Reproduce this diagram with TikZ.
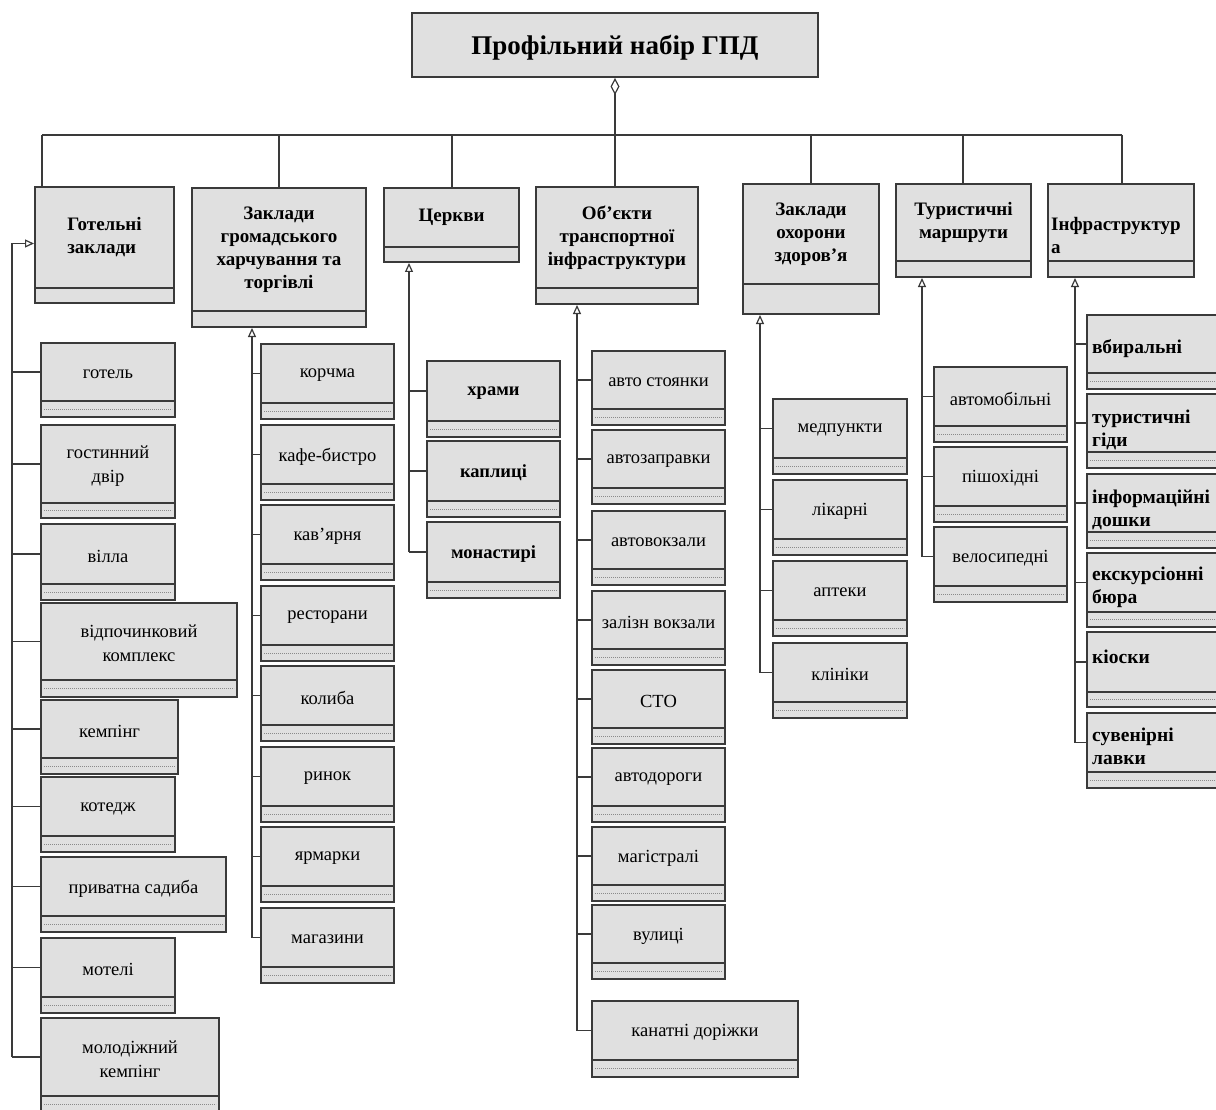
\documentclass[tikz,border=0pt]{standalone}
\usepackage{fontspec}
\setmainfont{Liberation Serif}
\usetikzlibrary{fit,arrows.meta}
\definecolor{boxfill}{HTML}{E0E0E0}
\definecolor{edge}{HTML}{3A3A3A}
\definecolor{dotc}{HTML}{8A8A8A}
\tikzset{
  base/.style={draw=edge, fill=boxfill, line width=2pt, inner sep=0pt, rectangle},
  titletext/.style={inner sep=0pt, font=\bfseries\fontsize{27}{30}\selectfont},
  cattext/.style={inner sep=0pt, font=\bfseries\fontsize{19}{23}\selectfont, align=center},
  catlefttext/.style={inner sep=0pt, font=\bfseries\fontsize{19}{23}\selectfont, align=left},
  itemtext/.style={inner sep=0pt, font=\fontsize{18.5}{24}\selectfont, align=center},
  itemboldtext/.style={inner sep=0pt, font=\bfseries\fontsize{18.5}{24}\selectfont, align=center},
  itemlefttext/.style={inner sep=0pt, font=\bfseries\fontsize{19.5}{23}\selectfont, align=left},
  dotline/.style={dotc, line width=0.8pt, dash pattern=on 1.2pt off 0.8pt},
  conn/.style={edge, line width=1.6pt},
  inh/.style={conn, -{Triangle[length=9pt,width=8pt,fill=white,line width=1.2pt]}},
  agg/.style={conn, {Diamond[length=17pt,width=9pt,fill=white,line width=1.2pt]}-},
}
% category: style, name, x1, y1, x2, ysep, y2, text
\newcommand\mkcat[8]{%
  \node[base, fit={(#3,#4) (#5,#6)}] (#2) {};
  \node[base, fit={(#3,#6) (#5,#7)}] (#2-b) {};
  \node[#1] (#2-t) at (#2.center) {#8};
}
% item: style, name, x1, y1, x2, ysep, y2, text
\newcommand\mkitem[8]{%
  \node[base, fit={(#3,#4) (#5,#6)}] (#2) {};
  \node[base, fit={(#3,#6) (#5,#7)}] (#2-b) {};
  \draw[dotline] ([xshift=4pt]#2-b.west) -- ([xshift=-4pt]#2-b.east);
  \node[#1] (#2-t) at ([yshift=-2pt]#2.center) {#8};
}
% left-aligned item, 9th argument: y of the text centre
\newcommand\mkitemL[9]{%
  \node[base, fit={(#3,#4) (#5,#6)}] (#2) {};
  \node[base, fit={(#3,#6) (#5,#7)}] (#2-b) {};
  \draw[dotline] ([xshift=4pt]#2-b.west) -- ([xshift=-4pt]#2-b.east);
  \node[#1, anchor=west] (#2-t) at (#3+5,#9) {#8};
}
\begin{document}
\begin{tikzpicture}[x=1pt,y=-1pt]
\useasboundingbox (0,0) rectangle (1216,1110);
\clip (0,0) rectangle (1216,1110);
\fill[white] (0,0) rectangle (1216,1110);

% title
\node[base, fit={(412,13) (818,77)}] (top) {};
\node[titletext] (top-t) at ([yshift=-3pt]top.center) {Профільний набір ГПД};

% categories
\mkcat{catlefttext}{g}{35}{187}{174}{288}{303}{Готельні\\заклади}
\mkcat{cattext}{z}{192}{188}{366}{311}{327}{Заклади\\громадського\\харчування та\\торгівлі}
\mkcat{cattext}{c}{384}{188}{519}{247}{262}{Церкви}
\mkcat{cattext}{o}{536}{187}{698}{288}{304}{Об’єкти\\транспортної\\інфраструктури}
\mkcat{cattext}{h}{743}{184}{879}{284}{314}{Заклади\\охорони\\здоров’я}
\mkcat{cattext}{t}{896}{184}{1031}{261}{277}{Туристичні\\маршрути}
\node[base, fit={(1048,184) (1194,261)}] (i) {};
\node[base, fit={(1048,261) (1194,277)}] (i-b) {};
\node[catlefttext, anchor=west] (i-t) at ([xshift=4pt,yshift=-13pt]i.west) {Інфраструктур\\а};

% bus
\coordinate (busL) at (42,135);
\coordinate (busR) at (1122,135);
\coordinate (do) at (615,135);
\draw[conn] (busL) -- (busR);
\draw[agg] (top.south -| do) -- (do);
\draw[conn] (busL) -- (busL |- g.north);
\foreach \x/\n in {279/z,452/c,811/h,963/t,1122/i}{
  \coordinate (d\n) at (\x,135);
  \draw[conn] (d\n) -- (d\n |- \n.north);
}
\draw[conn] (do) -- (do |- o.north);

% column 1
\mkitem{itemtext}{g1}{41}{343}{175}{401}{417}{готель}
\mkitem{itemtext}{g2}{41}{425}{175}{503}{518}{гостинний\\двір}
\mkitem{itemtext}{g3}{41}{524}{175}{584}{600}{вілла}
\mkitem{itemtext}{g4}{41}{603}{237}{680}{697}{відпочинковий\\комплекс}
\mkitem{itemtext}{g5}{41}{700}{178}{758}{774}{кемпінг}
\mkitem{itemtext}{g6}{41}{777}{175}{836}{852}{котедж}
\mkitem{itemtext}{g7}{41}{857}{226}{916}{932}{приватна садиба}
\mkitem{itemtext}{g8}{41}{938}{175}{997}{1013}{мотелі}
\mkitem{itemtext}{g9}{41}{1018}{219}{1096}{1113}{молодіжний\\кемпінг}
\coordinate (v1) at (12,0);
\draw[inh] (v1 |- g9.west) -- ([yshift=-6pt]v1 |- g.west) -- ([yshift=-6pt]g.west);
\foreach \n in {g1,g2,g3,g4,g5,g6,g7,g8,g9}
  \draw[conn] (v1 |- \n.west) -- (\n.west);

% column 2
\mkitem{itemtext}{z1}{261}{344}{394}{403}{419}{корчма}
\mkitem{itemtext}{z2}{261}{425}{394}{484}{500}{кафе-бистро}
\mkitem{itemtext}{z3}{261}{505}{394}{564}{580}{кав’ярня}
\mkitem{itemtext}{z4}{261}{586}{394}{645}{661}{ресторани}
\mkitem{itemtext}{z5}{261}{666}{394}{725}{741}{колиба}
\mkitem{itemtext}{z6}{261}{747}{394}{806}{822}{ринок}
\mkitem{itemtext}{z7}{261}{827}{394}{886}{902}{ярмарки}
\mkitem{itemtext}{z8}{261}{908}{394}{967}{983}{магазини}
\coordinate (v2) at (252,0);
\draw[inh] (v2 |- z8.west) -- (v2 |- z-b.south);
\foreach \n in {z1,z2,z3,z4,z5,z6,z7,z8}
  \draw[conn] (v2 |- \n.west) -- (\n.west);

% column 3
\mkitem{itemboldtext}{c1}{427}{361}{560}{421}{437}{храми}
\mkitem{itemboldtext}{c2}{427}{441}{560}{501}{517}{каплиці}
\mkitem{itemboldtext}{c3}{427}{522}{560}{582}{598}{монастирі}
\coordinate (v3) at (409,0);
\draw[inh] (v3 |- c3.west) -- (v3 |- c-b.south);
\foreach \n in {c1,c2,c3}
  \draw[conn] (v3 |- \n.west) -- (\n.west);

% column 4
\mkitem{itemtext}{o1}{592}{351}{725}{409}{425}{авто стоянки}
\mkitem{itemtext}{o2}{592}{430}{725}{488}{504}{автозаправки}
\mkitem{itemtext}{o3}{592}{511}{725}{569}{585}{автовокзали}
\mkitem{itemtext}{o4}{592}{591}{725}{649}{665}{залізн вокзали}
\mkitem{itemtext}{o5}{592}{670}{725}{728}{744}{СТО}
\mkitem{itemtext}{o6}{592}{748}{725}{806}{822}{автодороги}
\mkitem{itemtext}{o7}{592}{827}{725}{885}{901}{магістралі}
\mkitem{itemtext}{o8}{592}{905}{725}{963}{979}{вулиці}
\mkitem{itemtext}{o9}{592}{1001}{798}{1060}{1077}{канатні доріжки}
\coordinate (v4) at (577,0);
\draw[inh] (v4 |- o9.west) -- (v4 |- o-b.south);
\foreach \n in {o1,o2,o3,o4,o5,o6,o7,o8,o9}
  \draw[conn] (v4 |- \n.west) -- (\n.west);

% column 5
\mkitem{itemtext}{h1}{773}{399}{907}{458}{474}{медпункти}
\mkitem{itemtext}{h2}{773}{480}{907}{539}{555}{лікарні}
\mkitem{itemtext}{h3}{773}{561}{907}{620}{636}{аптеки}
\mkitem{itemtext}{h4}{773}{643}{907}{702}{718}{клініки}
\coordinate (v5) at (760,0);
\draw[inh] (v5 |- h4.west) -- (v5 |- h-b.south);
\foreach \n in {h1,h2,h3,h4}
  \draw[conn] (v5 |- \n.west) -- (\n.west);

% column 6
\mkitem{itemtext}{t1}{934}{367}{1067}{426}{442}{автомобільні}
\mkitem{itemtext}{t2}{934}{447}{1067}{506}{522}{пішохідні}
\mkitem{itemtext}{t3}{934}{527}{1067}{586}{602}{велосипедні}
\coordinate (v6) at (922,0);
\draw[inh] (v6 |- t3.west) -- (v6 |- t-b.south);
\foreach \n in {t1,t2,t3}
  \draw[conn] (v6 |- \n.west) -- (\n.west);

% column 7
\mkitemL{itemlefttext}{i1}{1087}{315}{1230}{373}{389}{вбиральні}{349}
\mkitemL{itemlefttext}{i2}{1087}{394}{1230}{452}{468}{туристичні\\гіди}{430}
\mkitemL{itemlefttext}{i3}{1087}{474}{1230}{532}{548}{інформаційні\\дошки}{510}
\mkitemL{itemlefttext}{i4}{1087}{553}{1230}{612}{627}{екскурсіонні\\бюра}{587}
\mkitemL{itemlefttext}{i5}{1087}{632}{1230}{692}{707}{кіоски}{657}
\mkitemL{itemlefttext}{i6}{1087}{713}{1230}{772}{788}{сувенірні\\лавки}{746}
\coordinate (v7) at (1075,0);
\draw[inh] (v7 |- i6.west) -- (v7 |- i-b.south);
\foreach \n in {i1,i2,i3,i4,i5,i6}
  \draw[conn] (v7 |- \n.west) -- (\n.west);
\end{tikzpicture}
\end{document}
